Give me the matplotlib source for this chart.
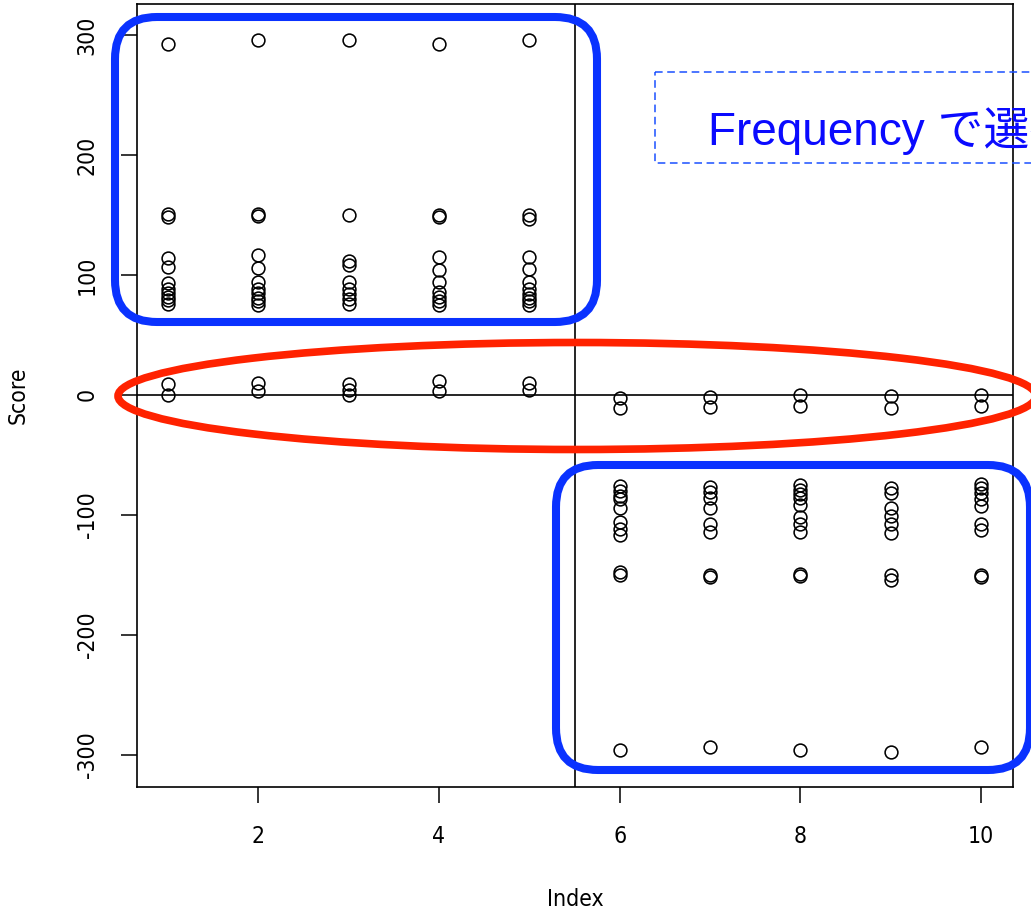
import matplotlib
matplotlib.use("Agg")
import matplotlib.pyplot as plt
from matplotlib.patches import FancyBboxPatch, Ellipse, Rectangle
from matplotlib import font_manager
from matplotlib.font_manager import FontProperties

# ---------------- data ----------------
index_values = [1, 2, 3, 4, 5, 6, 7, 8, 9, 10]
scores_1 = [293, 151, 148, 114, 107, 93, 88, 85, 82, 79, 76, 9, 0]
scores_2 = [296, 151, 149, 117, 106, 94, 88, 85, 81, 78, 75, 10, 3]
scores_3 = [296, 150, 112, 108, 94, 88, 84, 80, 76, 9, 4, 0]
scores_4 = [293, 150, 148, 115, 104, 94, 86, 82, 78, 75, 12, 3]
scores_5 = [296, 150, 147, 115, 105, 94, 88, 84, 81, 78, 75, 10, 4]
scores_6 = [-3, -11, -76, -80, -84, -87, -94, -106, -112, -117, -148, -150, -296]
scores_7 = [-2, -10, -77, -81, -86, -94, -108, -114, -150, -152, -294]
scores_8 = [0, -9, -75, -79, -83, -86, -92, -102, -108, -114, -149, -151, -296]
scores_9 = [-1, -11, -78, -82, -94, -101, -108, -115, -150, -154, -298]
scores_10 = [0, -9, -74, -78, -82, -87, -93, -108, -113, -150, -152, -294]
all_scores = [scores_1, scores_2, scores_3, scores_4, scores_5,
              scores_6, scores_7, scores_8, scores_9, scores_10]

x_ticks = [2, 4, 6, 8, 10]
y_ticks = [-300, -200, -100, 0, 100, 200, 300]
x_label = "Index"
y_label = "Score"
split_index = 5.5
note_text = "Frequency で選択"

# ---------------- fonts ----------------
narrow_path = None
for f in font_manager.fontManager.ttflist:
    base = f.fname.replace("\\", "/").split("/")[-1]
    if base in ("LiberationSansNarrow-Regular.ttf", "DejaVuSansCondensed.ttf"):
        narrow_path = f.fname
        if base.startswith("Liberation"):
            break
if narrow_path:
    axis_fp = FontProperties(fname=narrow_path, size=16.5)
else:
    axis_fp = FontProperties(family="Liberation Sans", size=15.5)

W, H, DPI = 1031, 911, 100
fig = plt.figure(figsize=(W / DPI, H / DPI), dpi=DPI)
fig.patch.set_facecolor("white")

ax = fig.add_axes([137 / W, 1 - 787 / H, (1013 - 137) / W, (787 - 4) / H])

xs, ys = [], []
for i, sc in zip(index_values, all_scores):
    xs.extend([i] * len(sc))
    ys.extend(sc)
ax.plot(xs, ys, linestyle="none", marker="o", markersize=9.2,
        markerfacecolor="none", markeredgecolor="black", markeredgewidth=1.15)

ax.axhline(0, color="black", lw=1.2)
ax.axvline(split_index, color="black", lw=1.2)

ax.set_xlim(0.657, 10.354)
ax.set_ylim(-327, 326)
ax.set_xticks(x_ticks)
ax.set_yticks(y_ticks)
ax.set_xticklabels([str(t) for t in x_ticks], fontproperties=axis_fp)
ax.set_yticklabels([str(t) for t in y_ticks], fontproperties=axis_fp,
                   rotation=90, va="center")
ax.tick_params(axis="both", direction="out", length=11.5, width=1.1, color="black")
ax.tick_params(axis="x", pad=16)
ax.tick_params(axis="y", pad=16)
for s in ax.spines.values():
    s.set_linewidth(1.2)
ax.set_xlabel(x_label, fontproperties=axis_fp, labelpad=29)
ax.set_ylabel(y_label, fontproperties=axis_fp, labelpad=33)

# ---------------- annotation overlay (pixel coords) ----------------
ov = fig.add_axes([0, 0, 1, 1], zorder=5)
ov.set_xlim(0, W)
ov.set_ylim(H, 0)
ov.axis("off")
ov.patch.set_alpha(0)

blue = "#0a32ff"
box1 = FancyBboxPatch((115, 17), 482, 305,
                      boxstyle="round,pad=0,rounding_size=42",
                      fill=False, edgecolor=blue, linewidth=5.8)
box2 = FancyBboxPatch((556, 465), 474, 305,
                      boxstyle="round,pad=0,rounding_size=42",
                      fill=False, edgecolor=blue, linewidth=5.8)
ov.add_patch(box1)
ov.add_patch(box2)

ell = Ellipse((577, 396), 918, 107, fill=False, edgecolor="#ff2200", linewidth=5.5)
ov.add_patch(ell)

dash = Rectangle((655, 72), 420, 91, fill=False, edgecolor="#1a50ff",
                 linewidth=1.1, linestyle=(0, (5, 3)))
ov.add_patch(dash)

ov.text(708, 145, note_text, color="#0a0aff", fontsize=33,
        family=["Liberation Sans", "Noto Sans CJK JP"], va="baseline", ha="left",
        clip_on=True)

fig.savefig("out.png", dpi=DPI)
